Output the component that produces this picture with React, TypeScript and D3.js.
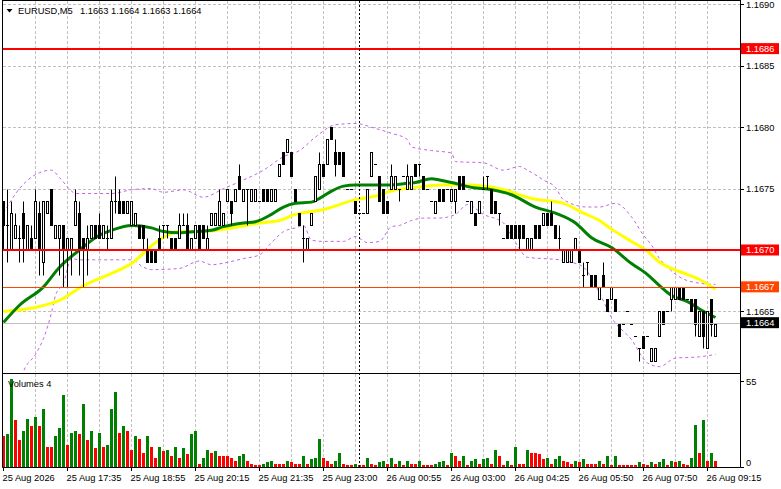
import { useEffect, useRef } from "react";
import * as d3 from "d3";

// EURUSD M5 candles (4-digit quotes), one entry per bar
const opens = [
  1.1674, 1.1672, 1.1670, 1.1671, 1.1671, 1.1673, 1.1670, 1.1671, 1.1671, 1.1673,
  1.1669, 1.1673, 1.1675, 1.1671, 1.1671, 1.1672, 1.1670, 1.1670, 1.1672, 1.1673,
  1.1671, 1.1670, 1.1671, 1.1672, 1.1672, 1.1671, 1.1671, 1.1671, 1.1674, 1.1674,
  1.1674, 1.1673, 1.1672, 1.1672, 1.1672, 1.1672, 1.1670, 1.1670, 1.1670, 1.1671,
  1.1672, 1.1672, 1.1671, 1.1671, 1.1671, 1.1672, 1.1672, 1.1670, 1.1671, 1.1672,
  1.1672, 1.1670, 1.1672, 1.1672, 1.1672, 1.1672, 1.1674, 1.1674, 1.1674, 1.1676,
  1.1674, 1.1675, 1.1674, 1.1674, 1.1674, 1.1675, 1.1675, 1.1674, 1.1674, 1.1676,
  1.1678, 1.1678, 1.1678, 1.1675, 1.1673, 1.1671, 1.1670, 1.1672, 1.1674, 1.1675,
  1.1677, 1.1677, 1.1680, 1.1678, 1.1678, 1.1678, 1.1675, 1.1675, 1.1674, 1.1673,
  1.1673, 1.1673, 1.1676, 1.1677, 1.1676, 1.1675, 1.1674, 1.1675, 1.1675, 1.1675,
  1.1676, 1.1675, 1.1675, 1.1677, 1.1677, 1.1676, 1.1675, 1.1674, 1.1673, 1.1675,
  1.1675, 1.1675, 1.1674, 1.1674, 1.1676, 1.1676, 1.1674, 1.1673, 1.1673, 1.1673,
  1.1675, 1.1676, 1.1675, 1.1674, 1.1673, 1.1671, 1.1672, 1.1672, 1.1672, 1.1672,
  1.1672, 1.1670, 1.1670, 1.1672, 1.1672, 1.1672, 1.1673, 1.1673, 1.1672, 1.1671,
  1.1669, 1.1669, 1.1669, 1.1670, 1.1670, 1.1668, 1.1669, 1.1668, 1.1668, 1.1666,
  1.1668, 1.1666, 1.1666, 1.1666, 1.1664, 1.1664, 1.1665, 1.1664, 1.1663, 1.1662,
  1.1663, 1.1663, 1.1661, 1.1661, 1.1663, 1.1665, 1.1665, 1.1666, 1.1666, 1.1667,
  1.1667, 1.1666, 1.1666, 1.1666, 1.1663, 1.1665, 1.1662, 1.1666, 1.1663,
];
const highs = [
  1.1674, 1.1675, 1.1674, 1.1673, 1.1672, 1.1674, 1.1672, 1.1672, 1.1675, 1.1674,
  1.1674, 1.1674, 1.1675, 1.1672, 1.1672, 1.1672, 1.1671, 1.1671, 1.1675, 1.1674,
  1.1671, 1.1672, 1.1672, 1.1672, 1.1673, 1.1672, 1.1672, 1.1675, 1.1676, 1.1675,
  1.1674, 1.1674, 1.1674, 1.1673, 1.1672, 1.1672, 1.1671, 1.1670, 1.1670, 1.1672,
  1.1672, 1.1672, 1.1671, 1.1671, 1.1673, 1.1673, 1.1673, 1.1671, 1.1672, 1.1672,
  1.1672, 1.1672, 1.1673, 1.1673, 1.1675, 1.1673, 1.1675, 1.1674, 1.1675, 1.1677,
  1.1675, 1.1675, 1.1675, 1.1675, 1.1674, 1.1675, 1.1675, 1.1675, 1.1675, 1.1677,
  1.1678, 1.1679, 1.1678, 1.1675, 1.1673, 1.1672, 1.1671, 1.1673, 1.1676, 1.1678,
  1.1677, 1.1679, 1.1680, 1.1679, 1.1678, 1.1678, 1.1675, 1.1675, 1.1674, 1.1673,
  1.1673, 1.1675, 1.1678, 1.1677, 1.1676, 1.1675, 1.1674, 1.1677, 1.1676, 1.1675,
  1.1676, 1.1677, 1.1676, 1.1677, 1.1677, 1.1676, 1.1675, 1.1674, 1.1674, 1.1675,
  1.1675, 1.1675, 1.1675, 1.1675, 1.1676, 1.1676, 1.1674, 1.1674, 1.1673, 1.1674,
  1.1676, 1.1676, 1.1675, 1.1674, 1.1673, 1.1671, 1.1672, 1.1672, 1.1672, 1.1672,
  1.1672, 1.1671, 1.1671, 1.1672, 1.1672, 1.1673, 1.1673, 1.1674, 1.1672, 1.1672,
  1.1670, 1.1670, 1.1670, 1.1671, 1.1670, 1.1669, 1.1669, 1.1668, 1.1668, 1.1667,
  1.1669, 1.1666, 1.1667, 1.1666, 1.1664, 1.1664, 1.1665, 1.1664, 1.1663, 1.1662,
  1.1663, 1.1663, 1.1662, 1.1662, 1.1665, 1.1665, 1.1665, 1.1667, 1.1667, 1.1667,
  1.1667, 1.1666, 1.1666, 1.1666, 1.1665, 1.1665, 1.1665, 1.1666, 1.1664,
];
const lows = [
  1.1670, 1.1669, 1.1670, 1.1671, 1.1669, 1.1669, 1.1670, 1.1670, 1.1671, 1.1668,
  1.1668, 1.1673, 1.1672, 1.1671, 1.1668, 1.1667, 1.1667, 1.1668, 1.1672, 1.1668,
  1.1667, 1.1668, 1.1671, 1.1671, 1.1671, 1.1671, 1.1670, 1.1671, 1.1673, 1.1673,
  1.1673, 1.1673, 1.1672, 1.1672, 1.1671, 1.1670, 1.1669, 1.1669, 1.1669, 1.1670,
  1.1671, 1.1671, 1.1670, 1.1670, 1.1671, 1.1672, 1.1670, 1.1670, 1.1671, 1.1670,
  1.1671, 1.1670, 1.1672, 1.1672, 1.1672, 1.1672, 1.1674, 1.1672, 1.1674, 1.1675,
  1.1674, 1.1672, 1.1674, 1.1674, 1.1674, 1.1674, 1.1674, 1.1674, 1.1674, 1.1676,
  1.1677, 1.1678, 1.1676, 1.1674, 1.1672, 1.1669, 1.1670, 1.1672, 1.1674, 1.1675,
  1.1676, 1.1677, 1.1679, 1.1676, 1.1677, 1.1676, 1.1675, 1.1675, 1.1673, 1.1673,
  1.1673, 1.1673, 1.1676, 1.1677, 1.1674, 1.1673, 1.1673, 1.1675, 1.1675, 1.1674,
  1.1676, 1.1675, 1.1675, 1.1676, 1.1676, 1.1675, 1.1675, 1.1674, 1.1673, 1.1674,
  1.1674, 1.1675, 1.1674, 1.1673, 1.1675, 1.1675, 1.1674, 1.1673, 1.1672, 1.1673,
  1.1675, 1.1675, 1.1673, 1.1673, 1.1672, 1.1671, 1.1671, 1.1671, 1.1671, 1.1670,
  1.1671, 1.1670, 1.1670, 1.1671, 1.1671, 1.1672, 1.1672, 1.1672, 1.1671, 1.1670,
  1.1669, 1.1669, 1.1669, 1.1670, 1.1669, 1.1667, 1.1668, 1.1667, 1.1667, 1.1666,
  1.1667, 1.1665, 1.1666, 1.1665, 1.1663, 1.1664, 1.1665, 1.1664, 1.1663, 1.1661,
  1.1662, 1.1663, 1.1661, 1.1661, 1.1663, 1.1664, 1.1665, 1.1665, 1.1666, 1.1666,
  1.1666, 1.1666, 1.1665, 1.1663, 1.1663, 1.1662, 1.1662, 1.1663, 1.1663,
];
const closes = [
  1.1672, 1.1672, 1.1673, 1.1672, 1.1671, 1.1671, 1.1672, 1.1670, 1.1674, 1.1670,
  1.1674, 1.1674, 1.1672, 1.1672, 1.1672, 1.1670, 1.1671, 1.1671, 1.1674, 1.1670,
  1.1670, 1.1671, 1.1672, 1.1671, 1.1671, 1.1672, 1.1671, 1.1674, 1.1674, 1.1673,
  1.1673, 1.1674, 1.1674, 1.1673, 1.1671, 1.1671, 1.1669, 1.1669, 1.1669, 1.1670,
  1.1672, 1.1672, 1.1670, 1.1670, 1.1672, 1.1672, 1.1670, 1.1671, 1.1672, 1.1670,
  1.1671, 1.1671, 1.1673, 1.1673, 1.1674, 1.1673, 1.1675, 1.1673, 1.1675, 1.1675,
  1.1675, 1.1675, 1.1675, 1.1675, 1.1674, 1.1674, 1.1674, 1.1675, 1.1675, 1.1677,
  1.1677, 1.1679, 1.1676, 1.1674, 1.1672, 1.1671, 1.1671, 1.1673, 1.1676, 1.1677,
  1.1676, 1.1679, 1.1679, 1.1677, 1.1677, 1.1676, 1.1675, 1.1675, 1.1673, 1.1673,
  1.1673, 1.1675, 1.1678, 1.1677, 1.1674, 1.1673, 1.1673, 1.1676, 1.1676, 1.1675,
  1.1676, 1.1676, 1.1676, 1.1676, 1.1677, 1.1675, 1.1675, 1.1674, 1.1674, 1.1674,
  1.1674, 1.1675, 1.1675, 1.1675, 1.1675, 1.1675, 1.1674, 1.1674, 1.1672, 1.1674,
  1.1675, 1.1676, 1.1673, 1.1673, 1.1673, 1.1671, 1.1671, 1.1671, 1.1671, 1.1671,
  1.1671, 1.1671, 1.1671, 1.1671, 1.1671, 1.1673, 1.1672, 1.1672, 1.1671, 1.1671,
  1.1670, 1.1670, 1.1670, 1.1671, 1.1669, 1.1668, 1.1669, 1.1667, 1.1667, 1.1667,
  1.1667, 1.1665, 1.1667, 1.1665, 1.1663, 1.1664, 1.1665, 1.1664, 1.1663, 1.1662,
  1.1662, 1.1663, 1.1662, 1.1662, 1.1665, 1.1664, 1.1665, 1.1667, 1.1667, 1.1666,
  1.1666, 1.1666, 1.1665, 1.1664, 1.1665, 1.1663, 1.1665, 1.1664, 1.1664,
];
const volumes = [
  20, 21, 56, 30, 17, 23, 31, 26, 32, 26,
  37, 13, 13, 20, 25, 46, 14, 22, 23, 21,
  40, 17, 23, 12, 22, 13, 14, 37, 48, 22,
  26, 23, 11, 20, 18, 9, 20, 13, 6, 13,
  10, 11, 7, 13, 6, 12, 8, 21, 23, 2,
  6, 11, 9, 10, 7, 7, 7, 6, 4, 7,
  8, 4, 2, 1, 1, 2, 3, 4, 2, 2,
  2, 4, 3, 2, 2, 7, 2, 5, 6, 18,
  6, 4, 2, 4, 9, 2, 1, 1, 2, 1,
  1, 6, 2, 1, 3, 4, 2, 6, 2, 4,
  1, 4, 2, 2, 4, 1, 1, 1, 2, 3,
  4, 1, 9, 7, 4, 7, 1, 4, 5, 2,
  5, 6, 2, 11, 7, 1, 4, 1, 13, 2,
  2, 11, 9, 9, 8, 5, 6, 2, 5, 7,
  4, 3, 2, 4, 3, 5, 2, 2, 2, 4,
  2, 7, 1, 7, 1, 1, 1, 1, 1, 3,
  2, 1, 3, 2, 3, 5, 1, 4, 3, 4,
  2, 1, 6, 27, 9, 30, 4, 9, 4,
];

const timeLabels = [
  "25 Aug 2026", "25 Aug 17:35", "25 Aug 18:55", "25 Aug 20:15", "25 Aug 21:35", "25 Aug 23:00",
  "26 Aug 00:55", "26 Aug 03:00", "26 Aug 04:25", "26 Aug 05:50", "26 Aug 07:50", "26 Aug 09:15",
];
const priceTicks = [1.169, 1.1685, 1.168, 1.1675, 1.167, 1.1665];
const volumeTicks = [55, 0];

// moving averages and bands at some bars
const greenIdx = [0, 4, 10, 14, 19, 24, 27, 32, 37, 40, 44, 48, 52, 55, 60, 63, 67, 70, 73, 77, 79, 82, 85, 88, 93, 97, 100, 103, 107, 109, 112, 117, 122, 127, 133, 138, 143, 147, 152, 157, 161, 164, 167, 171, 174, 178];
const greenMa = [1.16641, 1.16655, 1.1667, 1.16686, 1.167, 1.16712, 1.16716, 1.1672, 1.16718, 1.16715, 1.16714, 1.16715, 1.16716, 1.16719, 1.16722, 1.16723, 1.16729, 1.16735, 1.16738, 1.16739, 1.16742, 1.16748, 1.16752, 1.16753, 1.16753, 1.16753, 1.16754, 1.16755, 1.16758, 1.16757, 1.16755, 1.16751, 1.16749, 1.16745, 1.16735, 1.1673, 1.16722, 1.1671, 1.16702, 1.16689, 1.1668, 1.16671, 1.16663, 1.16658, 1.16652, 1.16645];
const yellowIdx = [0, 9, 14, 20, 27, 32, 38, 44, 49, 57, 64, 69, 73, 80, 88, 93, 98, 103, 109, 116, 124, 132, 140, 145, 149, 152, 157, 161, 164, 167, 171, 174, 178];
const yellowMa = [1.1665, 1.16654, 1.16659, 1.16671, 1.16681, 1.16689, 1.16706, 1.16715, 1.16715, 1.16718, 1.16722, 1.16724, 1.16729, 1.16733, 1.16741, 1.16744, 1.16749, 1.16751, 1.16753, 1.16753, 1.1675, 1.16742, 1.16738, 1.1673, 1.16724, 1.16717, 1.16707, 1.16699, 1.1669, 1.16685, 1.1668, 1.16676, 1.16668];
const bandUpIdx = [0, 4, 9, 12, 14, 17, 18, 27, 32, 37, 40, 45, 50, 55, 60, 65, 70, 74, 78, 83, 88, 93, 97, 101, 102, 107, 112, 113, 120, 125, 129, 131, 135, 138, 140, 146, 149, 153, 157, 160, 162, 164, 166, 169, 174, 178];
const bandUp = [1.1673, 1.1675, 1.16763, 1.16765, 1.16759, 1.16748, 1.16746, 1.16746, 1.16749, 1.1675, 1.16747, 1.16749, 1.16743, 1.1675, 1.16757, 1.16765, 1.16776, 1.16781, 1.16792, 1.16802, 1.16803, 1.16799, 1.16795, 1.1679, 1.16784, 1.16781, 1.16779, 1.16772, 1.16771, 1.16765, 1.16768, 1.16765, 1.16757, 1.16751, 1.16741, 1.16735, 1.16735, 1.16738, 1.16727, 1.16712, 1.16704, 1.16693, 1.16686, 1.16678, 1.16673, 1.16672];
const bandLowIdx = [0, 3, 5, 8, 10, 12, 13, 15, 17, 19, 24, 32, 35, 37, 44, 49, 52, 56, 60, 64, 67, 70, 73, 75, 77, 80, 85, 88, 91, 94, 97, 99, 102, 105, 109, 113, 116, 120, 125, 128, 131, 135, 139, 142, 145, 149, 152, 157, 161, 164, 168, 174, 178];
const bandLow = [1.16562, 1.16578, 1.16601, 1.16615, 1.16628, 1.16649, 1.16663, 1.16673, 1.16693, 1.16692, 1.16692, 1.16692, 1.16686, 1.16684, 1.16685, 1.16691, 1.16688, 1.1669, 1.16693, 1.16696, 1.16706, 1.16715, 1.16718, 1.1672, 1.16708, 1.16707, 1.16707, 1.16711, 1.16706, 1.16707, 1.16719, 1.1672, 1.16724, 1.16726, 1.16726, 1.16729, 1.16737, 1.16729, 1.16722, 1.16706, 1.16694, 1.16693, 1.16692, 1.1669, 1.16686, 1.16665, 1.16645, 1.16627, 1.16608, 1.16605, 1.16612, 1.16613, 1.16615];

const redLevels = [1.16864, 1.167];
const orangeLevel = 1.1667;
const bidPrice = 1.1664;
const markerBar = 89;
const symbol = "EURUSD,M5";
const lastQuote = [1.1663, 1.1664, 1.1663, 1.1664];

const W = 781;
const H = 489;
const FONT = "'Liberation Sans', Arial, sans-serif";
const FS = "9.3px";

const App = () => {
  const ref = useRef<SVGSVGElement>(null);

  useEffect(() => {
    const svg = d3.select(ref.current);
    svg.selectAll("*").remove();
    drawChart(svg);
  }, []);

  return (
    <div style={{ position: "absolute", left: 0, top: 0 }}>
      <svg ref={ref} width={W} height={H} style={{ display: "block" }} />
    </div>
  );
};

const drawChart = (svg: any) => {
  const right = 740.5;
  const x = d3.scaleLinear().domain([0, 178]).range([3.5, 715.5]);
  const y = d3.scaleLinear().domain([1.166, 1.169]).range([372.8, 4.4]);
  const yv = d3.scaleLinear().domain([0, 55]).range([467, 381]);
  const yr = (p: number) => Math.round(y(p)) + 0.5;

  svg.append("rect").attr("width", W).attr("height", H).attr("fill", "#fff");

  const defs = svg.append("defs");
  defs.append("clipPath").attr("id", "clipMain")
    .append("rect").attr("x", 3).attr("y", 1).attr("width", 737).attr("height", 372);
  defs.append("clipPath").attr("id", "clipVol")
    .append("rect").attr("x", 3).attr("y", 374).attr("width", 737).attr("height", 93);

  // dashed grid
  const grid = svg.append("g").attr("stroke", "#c0c0c0").attr("stroke-dasharray", "3,2");
  priceTicks.forEach((p) => {
    grid.append("line").attr("x1", 3).attr("x2", 740).attr("y1", yr(p)).attr("y2", yr(p));
  });
  d3.range(8, 179, 8).forEach((i) => {
    grid.append("line").attr("x1", x(i)).attr("x2", x(i)).attr("y1", 1).attr("y2", 372);
    grid.append("line").attr("x1", x(i)).attr("x2", x(i)).attr("y1", 374).attr("y2", 467);
  });

  const main = svg.append("g").attr("clip-path", "url(#clipMain)");

  const curve = (idx: number[]) =>
    d3.line<number>().x((_, k) => x(idx[k])).y((d) => y(d)).curve(d3.curveMonotoneX);

  // bollinger bands
  main.append("path").datum(bandUp).attr("d", curve(bandUpIdx))
    .attr("fill", "none").attr("stroke", "#c066e0").attr("stroke-dasharray", "3,3");
  main.append("path").datum(bandLow).attr("d", curve(bandLowIdx))
    .attr("fill", "none").attr("stroke", "#c066e0").attr("stroke-dasharray", "3,3");

  // moving averages
  main.append("path").datum(yellowMa).attr("d", curve(yellowIdx))
    .attr("fill", "none").attr("stroke", "#ffff00").attr("stroke-width", 3);
  main.append("path").datum(greenMa).attr("d", curve(greenIdx))
    .attr("fill", "none").attr("stroke", "#008000").attr("stroke-width", 3);

  // candles
  const idx = d3.range(opens.length);
  const candles = main.append("g");
  candles.selectAll("line.wick")
    .data(idx.filter((i) => highs[i] > lows[i]))
    .join("line")
    .attr("class", "wick")
    .attr("x1", (i: number) => x(i)).attr("x2", (i: number) => x(i))
    .attr("y1", (i: number) => yr(highs[i])).attr("y2", (i: number) => yr(lows[i]))
    .attr("stroke", "#000");
  candles.selectAll("rect.body")
    .data(idx.filter((i) => opens[i] !== closes[i]))
    .join("rect")
    .attr("class", "body")
    .attr("x", (i: number) => x(i) - 1)
    .attr("width", 2)
    .attr("y", (i: number) => yr(Math.max(opens[i], closes[i])))
    .attr("height", (i: number) => yr(Math.min(opens[i], closes[i])) - yr(Math.max(opens[i], closes[i])))
    .attr("fill", (i: number) => (closes[i] > opens[i] ? "#fff" : "#000"))
    .attr("stroke", "#000");
  candles.selectAll("line.doji")
    .data(idx.filter((i) => opens[i] === closes[i]))
    .join("line")
    .attr("class", "doji")
    .attr("x1", (i: number) => x(i) - 1.5).attr("x2", (i: number) => x(i) + 1.5)
    .attr("y1", (i: number) => yr(opens[i])).attr("y2", (i: number) => yr(opens[i]))
    .attr("stroke", "#000");

  // horizontal levels
  redLevels.forEach((p) => {
    main.append("line").attr("x1", 3).attr("x2", 740).attr("y1", Math.round(y(p))).attr("y2", Math.round(y(p)))
      .attr("stroke", "#ff0000").attr("stroke-width", 2);
  });
  main.append("line").attr("x1", 3).attr("x2", 740).attr("y1", yr(orangeLevel)).attr("y2", yr(orangeLevel))
    .attr("stroke", "#ff4500");
  main.append("line").attr("x1", 3).attr("x2", 740).attr("y1", yr(bidPrice) - 1).attr("y2", yr(bidPrice) - 1)
    .attr("stroke", "#c0c0c0");

  // volumes
  const vol = svg.append("g").attr("clip-path", "url(#clipVol)");
  vol.selectAll("rect")
    .data(idx)
    .join("rect")
    .attr("x", (i: number) => x(i) - 1.5)
    .attr("width", 3)
    .attr("y", (i: number) => Math.round(yv(volumes[i])))
    .attr("height", (i: number) => 467 - Math.round(yv(volumes[i])))
    .attr("fill", (i: number) => (i > 0 && volumes[i] > volumes[i - 1] ? "#008000" : "#ff0000"));

  // dotted marker line
  svg.append("line").attr("x1", x(markerBar)).attr("x2", x(markerBar)).attr("y1", 1).attr("y2", 467)
    .attr("stroke", "#000").attr("stroke-dasharray", "2,2");

  // frame
  const frame = svg.append("g").attr("stroke", "#000").attr("fill", "none");
  frame.append("line").attr("x1", 2.5).attr("x2", 2.5).attr("y1", 0).attr("y2", 467.5);
  frame.append("line").attr("x1", right).attr("x2", right).attr("y1", 0).attr("y2", 467.5);
  frame.append("line").attr("x1", 2.5).attr("x2", right).attr("y1", 0.5).attr("y2", 0.5);
  frame.append("line").attr("x1", 2.5).attr("x2", right).attr("y1", 373.5).attr("y2", 373.5);
  frame.append("line").attr("x1", 2.5).attr("x2", right).attr("y1", 467.5).attr("y2", 467.5);

  const text = (tx: number, ty: number, s: string, fill = "#000") =>
    svg.append("text").attr("x", tx).attr("y", ty).attr("fill", fill)
      .attr("font-family", FONT).attr("font-size", FS).text(s);

  // price scale
  priceTicks.forEach((p) => {
    frame.append("line").attr("x1", right).attr("x2", 744).attr("y1", yr(p)).attr("y2", yr(p));
    text(746, y(p) + 3.4, p.toFixed(4));
  });
  volumeTicks.forEach((v) => {
    const ty = v === 0 ? yv(v) - 1.5 : yv(v) + 4;
    frame.append("line").attr("x1", right).attr("x2", 744).attr("y1", Math.round(yv(v)) + 0.5).attr("y2", Math.round(yv(v)) + 0.5);
    text(746, ty, String(v));
  });

  // price tags
  const tags = [
    { p: redLevels[0], c: "#ff0000" },
    { p: redLevels[1], c: "#ff0000" },
    { p: orangeLevel, c: "#ff4500" },
    { p: bidPrice, c: "#000" },
  ];
  tags.forEach((t) => {
    const cy = t.p === bidPrice ? y(t.p) - 1 : y(t.p);
    svg.append("rect").attr("x", 741).attr("y", cy - 5.5).attr("width", 38).attr("height", 11).attr("fill", t.c);
    text(746, cy + 3.4, t.p.toFixed(4), "#fff");
  });

  // time axis
  d3.range(0, 179, 16).forEach((i, k) => {
    frame.append("line").attr("x1", x(i)).attr("x2", x(i)).attr("y1", 467.5).attr("y2", 471);
    text(x(i) - 1, 480.5, timeLabels[k]);
  });

  // header
  svg.append("path").attr("d", "M6.5,9 L12.5,9 L9.5,12.5 Z").attr("fill", "#000");
  text(18, 14, symbol);
  text(80, 14, lastQuote.map((q) => q.toFixed(4)).join(" "));
  text(8, 387, "Volumes " + volumes[volumes.length - 1]);
};

export default App;
